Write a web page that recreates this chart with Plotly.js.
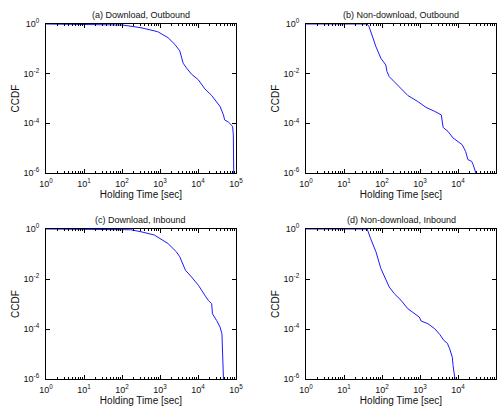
<!DOCTYPE html>
<html><head><meta charset="utf-8">
<script src="https://cdn.plot.ly/plotly-3.0.1.min.js"></script>
<style>html,body{margin:0;padding:0;background:#fff}#c{width:497px;height:412px}</style>
</head><body><div id="c"></div>
<script>
// (a) Download, Outbound
const xA = [1, 10, 31.6, 102, 316, 871, 1622, 2455, 3311, 3631, 4074, 5012, 6761, 10233, 15136, 22909, 30903, 38019, 46774, 50119, 63096, 81283, 85114, 87096];
const yA = [1, 0.9886, 0.977, 0.912, 0.708, 0.490, 0.282, 0.151, 0.0832, 0.049, 0.0263, 0.0166, 0.00955, 0.00562, 0.00245, 0.00132, 7.6e-4, 4.8e-4, 2.19e-4, 1.38e-4, 1.12e-4, 7.6e-5, 3.47e-5, 1e-6];
// (b) Non-download, Outbound
const xB = [1, 40.7, 45.7, 56.2, 69.2, 93.3, 114.8, 125.9, 134.9, 154.9, 208.9, 316.2, 478.6, 871, 1445, 2455, 3631, 4074, 5495, 7413, 10233, 12882, 15849, 18197, 22909, 25119, 29512];
const yB = [1, 1, 0.776, 0.309, 0.123, 0.0417, 0.0263, 0.0224, 0.0123, 0.00759, 0.00479, 0.00263, 0.00132, 7.59e-4, 4.37e-4, 3.02e-4, 2.19e-4, 6.76e-5, 4.68e-5, 2.57e-5, 1.86e-5, 1.38e-5, 7.41e-6, 3.47e-6, 2.95e-6, 2.14e-6, 1e-6];
// (c) Download, Inbound
const xC = [1, 10, 169.8, 316.2, 707.9, 1622, 2692, 3311, 3631, 4074, 4677, 6761, 10233, 15136, 18621, 22909, 23988, 30903, 38019, 42658, 46774];
const yC = [1, 0.993, 0.933, 0.776, 0.575, 0.263, 0.123, 0.0776, 0.0562, 0.0324, 0.0224, 0.0120, 0.00562, 0.00224, 0.00141, 0.00102, 4.07e-4, 2.19e-4, 1.20e-4, 6.46e-5, 1e-6];
// (d) Non-download, Inbound
const xD = [1, 40.7, 50.1, 69.2, 93.3, 125.9, 154.9, 208.9, 316.2, 478.6, 707.9, 955, 1072, 1622, 2455, 3311, 4266, 5248, 6026, 7079, 7413, 8318];
const yD = [1, 1, 0.417, 0.123, 0.0263, 0.00891, 0.00479, 0.00263, 0.00141, 6.46e-4, 4.07e-4, 3.02e-4, 2.09e-4, 1.62e-4, 1.02e-4, 6.03e-5, 3.47e-5, 2.69e-5, 1.62e-5, 7.41e-6, 3.47e-6, 1e-6];

const panelTitles = ['(a) Download, Outbound', '(b) Non-download, Outbound', '(c) Download, Inbound', '(d) Non-download, Inbound'];
const xTickVals = [1, 10, 100, 1000, 10000, 100000];
const xTickText = ['10<sup>0</sup>', '10<sup>1</sup>', '10<sup>2</sup>', '10<sup>3</sup>', '10<sup>4</sup>', '10<sup>5</sup>'];
const yTickVals = [1e-6, 1e-4, 1e-2, 1];
const yTickText = ['10<sup>-6</sup>', '10<sup>-4</sup>', '10<sup>-2</sup>', '10<sup>0</sup>'];
const xLabel = 'Holding Time [sec]';
const yLabel = 'CCDF';

const W = 497, H = 412;
const colDom = [[46 / W, 236 / W], [306 / W, 496 / W]];
const rowDom = [[1 - 173 / H, 1 - 24 / H], [1 - 379 / H, 1 - 229 / H]];
const font = {family: 'Liberation Sans, Arial, sans-serif', size: 9, color: '#111'};

const series = [[xA, yA], [xB, yB], [xC, yC], [xD, yD]];
const data = series.map((s, i) => ({
  x: s[0], y: s[1], type: 'scatter', mode: 'lines',
  line: {color: '#1a1aff', width: 1},
  xaxis: 'x' + (i + 1), yaxis: 'y' + (i + 1), showlegend: false
}));

const layout = {
  width: W, height: H, margin: {l: 0, r: 0, t: 0, b: 0},
  paper_bgcolor: '#fff', plot_bgcolor: '#fff', font: font, showlegend: false,
  annotations: []
};
for (let i = 0; i < 4; i++) {
  const col = i % 2, row = Math.floor(i / 2);
  const xa = {
    type: 'log', range: [0, 5], domain: colDom[col], anchor: 'y' + (i + 1),
    tickmode: 'array', tickvals: xTickVals, ticktext: xTickText,
    ticks: 'inside', ticklen: 4, tickwidth: 1, tickcolor: '#000', ticklabelstandoff: 2,
    minor: {dtick: 'D1', ticks: 'inside', ticklen: 2, tickwidth: 1, tickcolor: '#000', showgrid: false},
    showline: true, linecolor: '#000', linewidth: 1, mirror: 'allticks',
    showgrid: false, zeroline: false, tickfont: {size: 9, color: '#111'},
    title: {text: xLabel, font: {size: 10, color: '#111'}, standoff: 2}
  };
  const ya = {
    type: 'log', range: [-6, 0], domain: rowDom[row], anchor: 'x' + (i + 1),
    tickmode: 'array', tickvals: yTickVals, ticktext: yTickText,
    ticks: 'inside', ticklen: 4, tickwidth: 1, tickcolor: '#000', ticklabelstandoff: 4,
    showline: true, linecolor: '#000', linewidth: 1, mirror: 'allticks',
    showgrid: false, zeroline: false, tickfont: {size: 9, color: '#111'},
    title: {text: yLabel, font: {size: 10, color: '#111'}, standoff: 2}
  };
  layout['xaxis' + (i + 1)] = xa;
  layout['yaxis' + (i + 1)] = ya;
  layout.annotations.push({
    text: panelTitles[i], xref: 'paper', yref: 'paper',
    x: (colDom[col][0] + colDom[col][1]) / 2, y: rowDom[row][1],
    xanchor: 'center', yanchor: 'bottom', yshift: 2, showarrow: false,
    font: {size: 9, color: '#111'}
  });
}
Plotly.newPlot('c', data, layout, {staticPlot: true, displayModeBar: false});
</script></body></html>
